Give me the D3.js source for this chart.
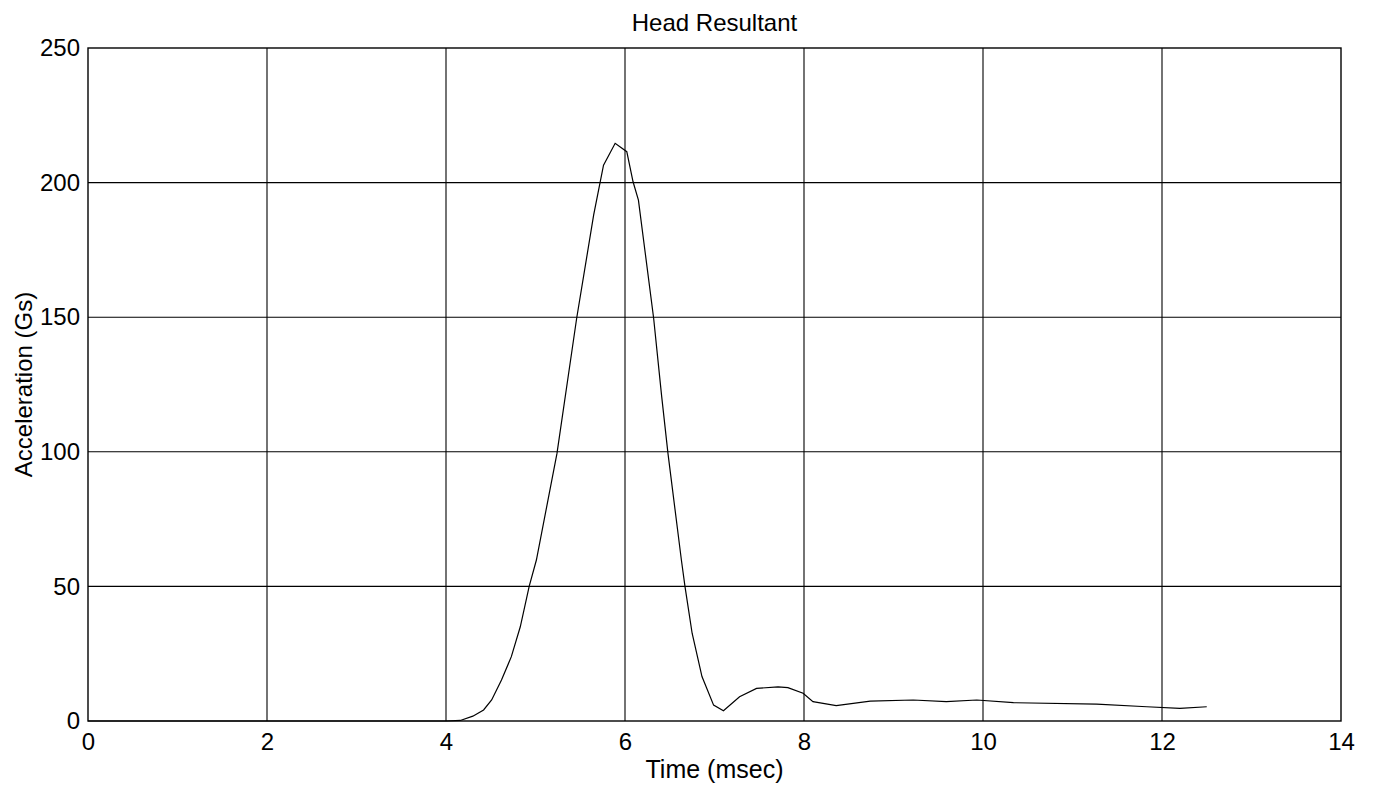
<!DOCTYPE html>
<html>
<head>
<meta charset="utf-8">
<script src="https://cdn.jsdelivr.net/npm/d3@7"></script>
<style>
  html, body { margin: 0; padding: 0; background: #fff; }
  svg { display: block; font-family: "Liberation Sans", Arial, sans-serif; }
</style>
</head>
<body>
<svg id="chart" width="1376" height="791"></svg>
<script>
const timeMs = [0, 1, 2, 3, 4, 4.16, 4.30, 4.42, 4.51, 4.62, 4.73, 4.83, 4.93, 5.01, 5.24, 5.46, 5.65, 5.76, 5.89, 6.02, 6.09, 6.15, 6.32, 6.41, 6.48, 6.63, 6.67, 6.75, 6.86, 6.99, 7.10, 7.28, 7.47, 7.71, 7.82, 7.99, 8.10, 8.36, 8.74, 9.22, 9.59, 9.93, 10.34, 11.27, 11.83, 12.2, 12.5];
const accelG = [0, 0, 0, 0, 0, 0.2, 1.8, 4.1, 7.8, 15.2, 23.9, 35.0, 50.1, 59.8, 99.4, 149.6, 188, 206.5, 214.6, 211.5, 200.3, 193.5, 149.6, 120.5, 99.4, 59.8, 50.0, 32.6, 16.5, 5.9, 3.8, 9.0, 12.1, 12.7, 12.4, 10.3, 7.2, 5.7, 7.4, 7.8, 7.2, 7.8, 6.8, 6.3, 5.3, 4.7, 5.3];
const xTicks = [0, 2, 4, 6, 8, 10, 12, 14];
const yTicks = [0, 50, 100, 150, 200, 250];
const titleText = "Head Resultant";
const xLabel = "Time (msec)";
const yLabel = "Acceleration (Gs)";

const svg = d3.select("#chart");
const m = { left: 88, top: 48, right: 1341, bottom: 721 };
const x = d3.scaleLinear().domain([0, 14]).range([m.left, m.right]);
const y = d3.scaleLinear().domain([0, 250]).range([m.bottom, m.top]);

// grid
svg.append("g").selectAll("line").data(xTicks.slice(1, -1)).join("line")
  .attr("x1", d => x(d)).attr("x2", d => x(d))
  .attr("y1", m.top).attr("y2", m.bottom)
  .attr("stroke", "#000").attr("stroke-width", 1.1);
svg.append("g").selectAll("line").data(yTicks.slice(1, -1)).join("line")
  .attr("y1", d => y(d)).attr("y2", d => y(d))
  .attr("x1", m.left).attr("x2", m.right)
  .attr("stroke", "#000").attr("stroke-width", 1.1);

// frame
svg.append("rect").attr("x", m.left).attr("y", m.top)
  .attr("width", m.right - m.left).attr("height", m.bottom - m.top)
  .attr("fill", "none").attr("stroke", "#000").attr("stroke-width", 1.4);

// axes (tick labels only)
const xAxis = svg.append("g").attr("transform", `translate(0,${m.bottom})`)
  .call(d3.axisBottom(x).tickValues(xTicks).tickSize(0).tickPadding(12).tickFormat(d3.format("d")));
xAxis.select(".domain").remove();
xAxis.selectAll("text").attr("font-size", 24).attr("fill", "#000").attr("font-family", "Liberation Sans, Arial, sans-serif");

const yAxis = svg.append("g").attr("transform", `translate(${m.left},0)`)
  .call(d3.axisLeft(y).tickValues(yTicks).tickSize(0).tickPadding(8).tickFormat(d3.format("d")));
yAxis.select(".domain").remove();
yAxis.selectAll("text").attr("font-size", 24).attr("fill", "#000").attr("font-family", "Liberation Sans, Arial, sans-serif");

// data line
const pts = timeMs.map((t, i) => [t, accelG[i]]);
svg.append("path").datum(pts)
  .attr("fill", "none").attr("stroke", "#000").attr("stroke-width", 1.2)
  .attr("d", d3.line().x(d => x(d[0])).y(d => y(d[1])));

// titles
svg.append("text").attr("x", (m.left + m.right) / 2).attr("y", 31)
  .attr("text-anchor", "middle").attr("font-size", 24).text(titleText);
svg.append("text").attr("x", (m.left + m.right) / 2).attr("y", 778)
  .attr("text-anchor", "middle").attr("font-size", 25).text(xLabel);
svg.append("text").attr("transform", `translate(32,${(m.top + m.bottom) / 2}) rotate(-90)`)
  .attr("text-anchor", "middle").attr("font-size", 24).text(yLabel);
</script>
</body>
</html>
